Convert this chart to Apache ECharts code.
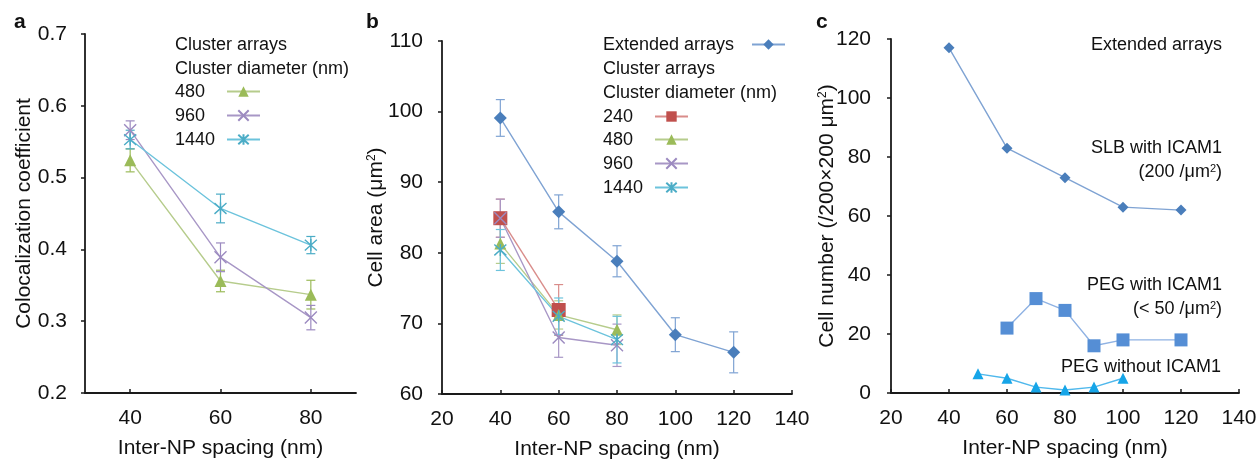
<!DOCTYPE html>
<html><head><meta charset="utf-8">
<script src="https://cdn.jsdelivr.net/npm/echarts@6/dist/echarts.min.js"></script>
<style>html,body{margin:0;padding:0;background:#fff}#c{width:1260px;height:460px}</style>
</head><body><div id="c"></div>
<script>
// ---------- data ----------
const aCategories = ['40', '60', '80'];
const a480 = [0.524, 0.356, 0.337];
const a480Err = [0.016, 0.015, 0.020];
const a960 = [0.566, 0.389, 0.305];
const a960Err = [0.013, 0.020, 0.017];
const a1440 = [0.553, 0.457, 0.406];
const a1440Err = [0.013, 0.020, 0.012];

const bExtX = [40, 60, 80, 100, 120];
const bExt = [99.1, 85.8, 78.8, 68.4, 65.9];
const bExtErr = [2.6, 2.4, 2.2, 2.4, 2.9];
const b240X = [40, 60];
const b240 = [84.9, 71.9];
const b240Err = [2.7, 3.6];
const bClX = [40, 60, 80];
const b480 = [81.3, 71.2, 69.1];
const b480Err = [2.8, 2.0, 2.1];
const b960 = [84.9, 68.0, 66.9];
const b960Err = [2.7, 2.8, 3.0];
const b1440 = [80.4, 71.0, 67.7];
const b1440Err = [2.9, 2.6, 3.3];

const cSlbX = [40, 60, 80, 100, 120];
const cSlb = [117, 83, 73, 63, 62];
const cPegX = [60, 70, 80, 90, 100, 120];
const cPeg = [22, 32, 28, 16, 18, 18];
const cNoX = [50, 60, 70, 80, 90, 100];
const cNo = [6.5, 5, 2, 1, 2, 5];

const aYTicks = {min: 0.2, max: 0.7, interval: 0.1};
const bYTicks = {min: 60, max: 110, interval: 10};
const cYTicks = {min: 0, max: 120, interval: 20};
const xTicks = {min: 20, max: 140, interval: 20};

// ---------- styles ----------
const FONT = '"Liberation Sans", Arial, sans-serif';
const C = {
  ext: {line: '#7fa3d3', mark: '#4a7ebb'},
  r240: {line: '#d98c8a', mark: '#c0504d'},
  g480: {line: '#b6cc8c', mark: '#9bbb59'},
  p960: {line: '#a897c6', mark: '#9c8ac0'},
  c1440: {line: '#6cc3dc', mark: '#1cc0f2'},
  peg: {line: '#8fb2e3', mark: '#558ed5'},
  no: {line: '#4fb8ec', mark: '#16a5e8'}
};
const X_PATH = 'path://M0,0L10,10M10,0L0,10';
const STAR_PATH = 'path://M5,0L5,10M0.5,0.5L9.5,9.5M9.5,0.5L0.5,9.5';

function pairs(xs, ys) { return xs.map((x, i) => [x, ys[i]]); }

function lineSeries(name, gi, xs, ys, col, symbol, size, strokeSym) {
  return {
    type: 'line', name: name, xAxisIndex: gi, yAxisIndex: gi,
    data: pairs(xs, ys), symbol: symbol, symbolSize: size,
    lineStyle: {color: col.line, width: 1.4},
    itemStyle: strokeSym ? {color: 'rgba(0,0,0,0)', borderColor: col.mark, borderWidth: 1.4}
                         : {color: col.mark, borderWidth: 0},
    emphasis: {disabled: true}, animation: false, z: 3
  };
}
function errSeries(gi, xs, ys, es, color) {
  return {
    type: 'custom', xAxisIndex: gi, yAxisIndex: gi, silent: true, animation: false, z: 2,
    data: xs.map((x, i) => [x, ys[i] - es[i], ys[i] + es[i]]),
    encode: {x: 0, y: [1, 2]},
    renderItem: function (params, api) {
      const lo = api.coord([api.value(0), api.value(1)]);
      const hi = api.coord([api.value(0), api.value(2)]);
      const w = 4.5;
      const st = {stroke: color, lineWidth: 1.2};
      return {type: 'group', children: [
        {type: 'line', shape: {x1: lo[0], y1: lo[1], x2: hi[0], y2: hi[1]}, style: st},
        {type: 'line', shape: {x1: lo[0] - w, y1: lo[1], x2: lo[0] + w, y2: lo[1]}, style: st},
        {type: 'line', shape: {x1: hi[0] - w, y1: hi[1], x2: hi[0] + w, y2: hi[1]}, style: st}
      ]};
    }
  };
}

const axisLine = {show: true, lineStyle: {color: '#1a1a1a', width: 1.8}};
const labelStyle = {color: '#111', fontSize: 21, fontFamily: FONT};
const nameStyle = {color: '#111', fontSize: 21, fontFamily: FONT,
  rich: {sup: {fontSize: 12, verticalAlign: 'top', fontFamily: FONT, color: '#111', padding: [0, 0, 9, 0]}}};

function yAxis(gi, t, name, gap, margin, fmt) {
  return {type: 'value', gridIndex: gi, min: t.min, max: t.max, interval: t.interval,
    axisLine: axisLine, axisTick: {show: true, inside: false, length: 4, lineStyle: {color: '#1a1a1a', width: 1.5}},
    splitLine: {show: false}, axisLabel: Object.assign({margin: margin, formatter: fmt}, labelStyle),
    name: name, nameLocation: 'middle', nameGap: gap, nameMoveOverlap: false, nameTextStyle: nameStyle};
}
function xValAxis(gi) {
  return {type: 'value', gridIndex: gi, min: xTicks.min, max: xTicks.max, interval: xTicks.interval,
    axisLine: axisLine, axisTick: {show: true, inside: true, length: 4, lineStyle: {color: '#1a1a1a', width: 1.5}},
    splitLine: {show: false}, axisLabel: Object.assign({margin: 15}, labelStyle),
    name: 'Inter-NP spacing (nm)', nameLocation: 'middle', nameGap: 45, nameMoveOverlap: false, nameTextStyle: nameStyle};
}

const series = [
  // panel a
  errSeries(0, aCategories, a480, a480Err, C.g480.mark),
  errSeries(0, aCategories, a960, a960Err, C.p960.mark),
  errSeries(0, aCategories, a1440, a1440Err, '#4bacc6'),
  lineSeries('a480', 0, aCategories, a480, C.g480, 'triangle', 12, false),
  lineSeries('a960', 0, aCategories, a960, C.p960, X_PATH, 12, true),
  lineSeries('a1440', 0, aCategories, a1440, {line: C.c1440.line, mark: '#4bacc6'}, STAR_PATH, 12, true),
  // panel b
  errSeries(1, bExtX, bExt, bExtErr, C.ext.line),
  errSeries(1, b240X, b240, b240Err, C.r240.line),
  errSeries(1, bClX, b480, b480Err, C.g480.line),
  errSeries(1, bClX, b960, b960Err, C.p960.line),
  errSeries(1, bClX, b1440, b1440Err, C.c1440.line),
  lineSeries('bExt', 1, bExtX, bExt, C.ext, 'diamond', 13, false),
  lineSeries('b240', 1, b240X, b240, C.r240, 'rect', 14, false),
  lineSeries('b480', 1, bClX, b480, C.g480, 'triangle', 12, false),
  lineSeries('b960', 1, bClX, b960, C.p960, X_PATH, 12, true),
  lineSeries('b1440', 1, bClX, b1440, {line: C.c1440.line, mark: '#4bacc6'}, STAR_PATH, 12, true),
  // panel c
  lineSeries('cSlb', 2, cSlbX, cSlb, C.ext, 'diamond', 11, false),
  lineSeries('cPeg', 2, cPegX, cPeg, C.peg, 'rect', 13, false),
  lineSeries('cNo', 2, cNoX, cNo, C.no, 'triangle', 11, false)
];

// legend icons (text drawn separately)
function legendItem(name, left, top) {
  return {show: true, left: left, top: top, orient: 'horizontal', padding: 0, itemGap: 0,
    itemWidth: 33, itemHeight: 13, selectedMode: false, formatter: function () { return ''; },
    data: [name], textStyle: {fontSize: 1}};
}
const legends = [
  legendItem('a480', 226, 85), legendItem('a960', 226, 109), legendItem('a1440', 226, 133),
  legendItem('bExt', 751, 38), legendItem('b240', 654, 110), legendItem('b480', 654, 133),
  legendItem('b960', 654, 157), legendItem('b1440', 654, 181)
];

function txt(x, y, s, opts) {
  return Object.assign({type: 'text', x: x, y: y, silent: true, style: Object.assign({
    text: s, font: '18px ' + FONT, fill: '#111', verticalAlign: 'middle', align: 'left',
    rich: {sup: {fontSize: 11, verticalAlign: 'top', fill: '#111', fontFamily: FONT}}}, opts || {})});
}
const graphics = [
  txt(14, 22, 'a', {font: 'bold 21px ' + FONT}),
  txt(366, 22, 'b', {font: 'bold 21px ' + FONT}),
  txt(816, 22, 'c', {font: 'bold 21px ' + FONT}),
  txt(175, 45, 'Cluster arrays'), txt(175, 69, 'Cluster diameter (nm)'),
  txt(175, 92, '480'), txt(175, 116, '960'), txt(175, 140, '1440'),
  txt(603, 45, 'Extended arrays'), txt(603, 69, 'Cluster arrays'), txt(603, 93, 'Cluster diameter (nm)'),
  txt(603, 117, '240'), txt(603, 140, '480'), txt(603, 164, '960'), txt(603, 188, '1440'),
  txt(1222, 45, 'Extended arrays', {align: 'right'}),
  txt(1222, 148, 'SLB with ICAM1', {align: 'right'}),
  txt(1222, 172, '(200 /μm{sup|2})', {align: 'right'}),
  txt(1222, 285, 'PEG with ICAM1', {align: 'right'}),
  txt(1222, 309, '(< 50 /μm{sup|2})', {align: 'right'}),
  txt(1221, 367, 'PEG without ICAM1', {align: 'right'})
];

const option = {
  backgroundColor: '#fff', animation: false,
  textStyle: {fontFamily: FONT},
  grid: [
    {left: 85, top: 34, width: 271, height: 359, outerBoundsMode: 'none', containLabel: false},
    {left: 442, top: 41, width: 350, height: 353, outerBoundsMode: 'none', containLabel: false},
    {left: 891, top: 39, width: 348, height: 354, outerBoundsMode: 'none', containLabel: false}
  ],
  xAxis: [
    {type: 'category', gridIndex: 0, data: aCategories, boundaryGap: true,
     axisLine: axisLine, axisTick: {show: true, inside: true, alignWithLabel: true, length: 4, lineStyle: {color: '#1a1a1a', width: 1.5}},
     splitLine: {show: false}, axisLabel: Object.assign({margin: 15}, labelStyle),
     name: 'Inter-NP spacing (nm)', nameLocation: 'middle', nameGap: 45, nameMoveOverlap: false, nameTextStyle: nameStyle},
    xValAxis(1), xValAxis(2)
  ],
  yAxis: [
    yAxis(0, aYTicks, 'Colocalization coefficient', 50, 18, v => v.toFixed(1)),
    yAxis(1, bYTicks, 'Cell area (μm{sup|2})', 55, 19, v => String(v)),
    yAxis(2, cYTicks, 'Cell number (/200×200 μm{sup|2})', 53, 20, v => String(v))
  ],
  legend: legends,
  series: series,
  graphic: graphics
};
const chart = echarts.init(document.getElementById('c'), null, {renderer: 'canvas'});
chart.setOption(option);
</script></body></html>
